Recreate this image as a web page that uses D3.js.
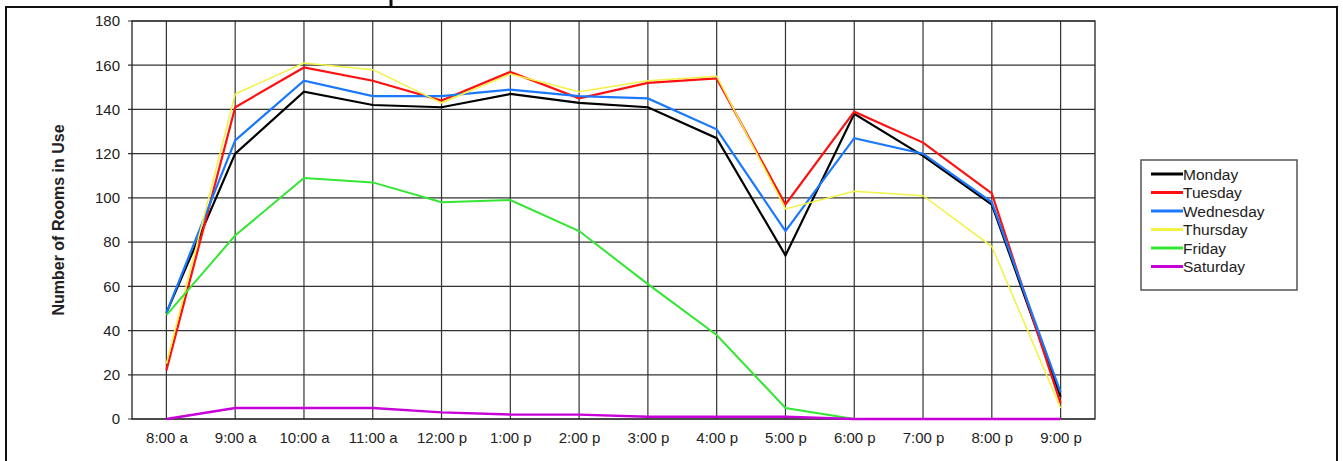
<!DOCTYPE html>
<html>
<head>
<meta charset="utf-8">
<script src="https://cdn.jsdelivr.net/npm/d3@7/dist/d3.min.js"></script>
<style>
  html, body { margin: 0; padding: 0; background: #fff; }
  svg { display: block; }
  text { font-family: "Liberation Sans", Arial, sans-serif; fill: #222; }
</style>
</head>
<body>
<svg id="chart" width="1343" height="461"></svg>
<script>
const categories = ["8:00 a","9:00 a","10:00 a","11:00 a","12:00 p","1:00 p","2:00 p","3:00 p","4:00 p","5:00 p","6:00 p","7:00 p","8:00 p","9:00 p"];
const yTicks = [0,20,40,60,80,100,120,140,160,180];
const seriesNames = ["Monday","Tuesday","Wednesday","Thursday","Friday","Saturday"];
const monday    = [48,120,148,142,141,147,143,141,127,74,138,119,97,10];
const tuesday   = [22,141,159,153,144,157,145,152,154,97,139,125,102,7];
const wednesday = [48,126,153,146,146,149,146,145,131,85,127,120,98,12];
const thursday  = [25,147,161,158,143,156,148,153,155,95,103,101,78,5];
const friday    = [47,83,109,107,98,99,85,61,38,5,0,0,0,0];
const saturday  = [0,5,5,5,3,2,2,1,1,1,0,0,0,0];
const seriesValues = [monday,tuesday,wednesday,thursday,friday,saturday];
const colors = ["#000000","#ff1010","#1a78ff","#f2f244","#33e633","#c800d8"];
const widths = [2.2,2.2,2.2,1.5,2,2.4];

(function(){
const svg = d3.select("#chart");

svg.append("path").attr("d","M6,461 V7 H1337 V461").attr("fill","none").attr("stroke","#111").attr("stroke-width",2);
svg.append("line").attr("x1",391).attr("x2",391).attr("y1",0).attr("y2",7).attr("stroke","#111").attr("stroke-width",3);

const pLeft = 132, pRight = 1095, pTop = 21, pBottom = 419;
const x = d3.scalePoint().domain(categories).range([pLeft,pRight]).padding(0.5);
const y = d3.scaleLinear().domain([0,180]).range([pBottom,pTop]);

const g = svg.append("g");

g.selectAll("line.h").data(yTicks).join("line").attr("class","h")
  .attr("x1",pLeft-4).attr("x2",pRight).attr("y1",d=>y(d)).attr("y2",d=>y(d))
  .attr("stroke","#333").attr("stroke-width",1.2);
g.selectAll("line.v").data(categories).join("line").attr("class","v")
  .attr("x1",d=>x(d)).attr("x2",d=>x(d)).attr("y1",pTop).attr("y2",pBottom)
  .attr("stroke","#333").attr("stroke-width",1.2);
g.append("rect").attr("x",pLeft).attr("y",pTop).attr("width",pRight-pLeft).attr("height",pBottom-pTop)
  .attr("fill","none").attr("stroke","#222").attr("stroke-width",1.3);

const yAxis = svg.append("g").attr("transform",`translate(${pLeft},0)`)
  .call(d3.axisLeft(y).tickValues(yTicks).tickSize(0).tickPadding(12));
yAxis.select(".domain").remove();
yAxis.selectAll("text").style("font-size","15px").style("font-family","Liberation Sans, Arial, sans-serif").attr("fill","#222");

const xAxis = svg.append("g").attr("transform",`translate(0,${pBottom})`)
  .call(d3.axisBottom(x).tickSize(0).tickPadding(13));
xAxis.select(".domain").remove();
xAxis.selectAll("text").style("font-size","15px").style("font-family","Liberation Sans, Arial, sans-serif").attr("fill","#222");

svg.append("text").attr("transform","translate(64,220) rotate(-90)")
  .attr("text-anchor","middle").style("font-size","16px").style("font-weight","bold").attr("fill","#111")
  .text("Number of Rooms in Use");

const line = d3.line().x((d,i)=>x(categories[i])).y(d=>y(d));
seriesValues.forEach((vals,k)=>{
  svg.append("path").datum(vals).attr("d",line).attr("fill","none")
    .attr("stroke",colors[k]).attr("stroke-width",widths[k]).attr("stroke-linejoin","miter");
});

const lg = svg.append("g");
lg.append("rect").attr("x",1141).attr("y",160).attr("width",156).attr("height",130)
  .attr("fill","#fff").attr("stroke","#555").attr("stroke-width",1.5);
seriesNames.forEach((n,i)=>{
  const yy = 174 + i*18.5;
  lg.append("line").attr("x1",1151).attr("x2",1183).attr("y1",yy).attr("y2",yy)
    .attr("stroke",colors[i]).attr("stroke-width",3);
  lg.append("text").attr("x",1183).attr("y",yy+5.5).style("font-size","15.5px").attr("fill","#111").text(n);
});
})();
</script>
</body>
</html>
